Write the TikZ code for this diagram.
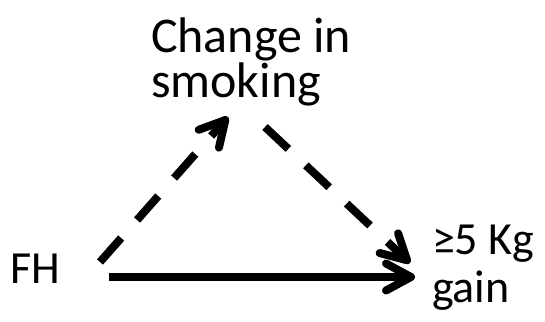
\documentclass[tikz,border=0pt]{standalone}
\usepackage{fontspec}
\setmainfont{Carlito}
\usetikzlibrary{arrows.meta,calc}
\begin{document}
\begin{tikzpicture}[x=1pt,y=-1pt,
  lbl/.style={inner sep=0pt, outer sep=0pt, align=left, anchor=base west},
  conn/.style={line width=8pt, -{Straight Barb[length=25pt,width=27pt,round]}},
  dashconn/.style={conn, dash pattern=on 32pt off 24pt}]
\useasboundingbox (0,0) rectangle (545,321);
\node[lbl, font=\fontsize{46}{41}\selectfont] (fh) at (10,283) {FH};
\node[lbl, font=\fontsize{50}{42}\selectfont] (smk) at (151,97) {Change in\\smoking};
\node[lbl, font=\fontsize{46}{48}\selectfont] (gain) at (432,302) {≥5 Kg\\gain};
\draw[conn] ($(fh.base west)+(99,-6)$) -- ($(gain.base west)+(-17,-25)$);
\draw[dashconn] ($(fh.base west)+(90,-21)$) -- ($(smk.base west)+(77,20)$);
\draw[dashconn] ($(smk.base west)+(114,30)$) -- ($(gain.base west)+(-22,-39)$);
\end{tikzpicture}
\end{document}
